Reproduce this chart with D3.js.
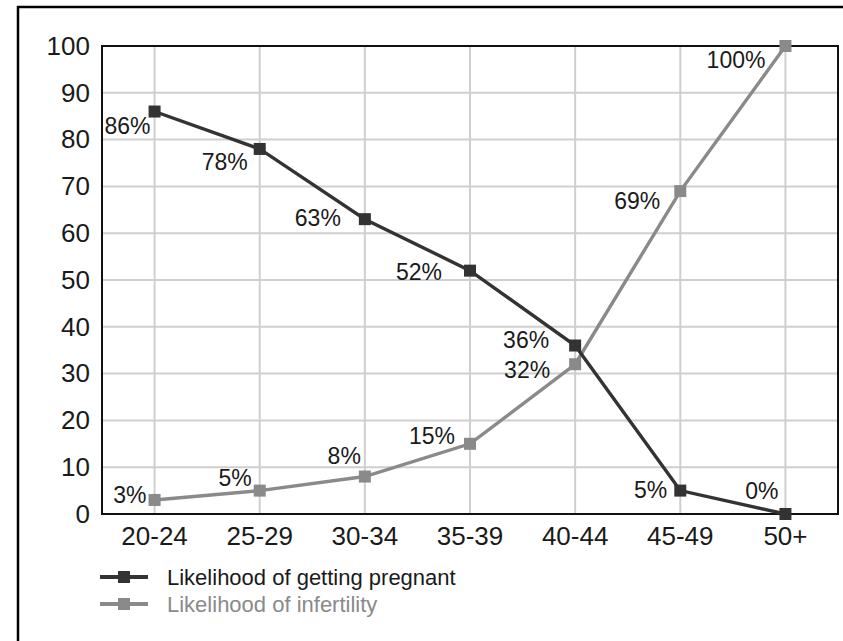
<!DOCTYPE html>
<html><head><meta charset="utf-8">
<script src="https://cdn.jsdelivr.net/npm/d3@7"></script>
<style>body{margin:0;background:#fff;}svg{display:block;font-family:"Liberation Sans",Arial,sans-serif;}</style>
</head><body><div id="chart"></div>
<script>
const categories = ["20-24","25-29","30-34","35-39","40-44","45-49","50+"];
const pregnant = [86,78,63,52,36,5,0];
const infertility = [3,5,8,15,32,69,100];
const yTicks = [0,10,20,30,40,50,60,70,80,90,100];
const seriesNames = ["Likelihood of getting pregnant","Likelihood of infertility"];
// label offsets (dx, dy) relative to each point
const pregLabelOffsets = [[-4,22],[-12,21],[-24,7],[-28,9],[-26,2],[-13,7],[-7,-15]];
const infLabelOffsets = [[-8,3],[-8,-5],[-4,-13],[-15,0],[-25,14],[-20,18],[-20,22]];

const W = 843, H = 641;
const m = {left:102, top:46, right:843-838, bottom:641-514};
const svg = d3.select("#chart").append("svg").attr("width",W).attr("height",H);

// outer frame
svg.append("rect").attr("x",18).attr("y",7).attr("width",840).attr("height",660)
  .attr("fill","none").attr("stroke","#000").attr("stroke-width",2.5);

const x = d3.scaleBand().domain(categories).range([m.left, W-m.right]);
const cx = d => x(d) + x.bandwidth()/2;
const y = d3.scaleLinear().domain([0,100]).range([H-m.bottom, m.top]);

// grid
const g = svg.append("g");
g.selectAll(".hg").data(yTicks).join("line")
  .attr("x1",m.left).attr("x2",W-m.right).attr("y1",d=>y(d)).attr("y2",d=>y(d))
  .attr("stroke","#cfcfcf").attr("stroke-width",2);
g.selectAll(".vg").data(categories).join("line")
  .attr("x1",cx).attr("x2",cx).attr("y1",m.top).attr("y2",H-m.bottom)
  .attr("stroke","#cfcfcf").attr("stroke-width",2);

// plot border
svg.append("rect").attr("x",m.left).attr("y",m.top).attr("width",W-m.right-m.left).attr("height",H-m.bottom-m.top)
  .attr("fill","none").attr("stroke","#111").attr("stroke-width",2);

// axes
const yAxis = svg.append("g").attr("transform",`translate(${m.left},0)`)
  .call(d3.axisLeft(y).tickValues(yTicks).tickSize(0).tickPadding(12));
yAxis.select(".domain").remove();
yAxis.selectAll("text").attr("font-size",26).attr("fill","#1a1a1a").attr("font-family","Liberation Sans, Arial, sans-serif");

const xAxis = svg.append("g").attr("transform",`translate(0,${H-m.bottom})`)
  .call(d3.axisBottom(x).tickSize(0).tickPadding(13));
xAxis.select(".domain").remove();
xAxis.selectAll("text").attr("font-size",26).attr("fill","#1a1a1a").attr("font-family","Liberation Sans, Arial, sans-serif");

function drawSeries(vals, color, offsets) {
  const pts = vals.map((v,i)=>({c:categories[i], v, o:offsets[i]}));
  const line = d3.line().x(d=>cx(d.c)).y(d=>y(d.v));
  svg.append("path").datum(pts).attr("d",line).attr("fill","none")
    .attr("stroke",color).attr("stroke-width",3.4);
  svg.append("g").selectAll("rect").data(pts).join("rect")
    .attr("x",d=>cx(d.c)-6).attr("y",d=>y(d.v)-6).attr("width",12).attr("height",12)
    .attr("fill",color);
  svg.append("g").selectAll("text").data(pts).join("text")
    .attr("x",d=>cx(d.c)+d.o[0]).attr("y",d=>y(d.v)+d.o[1])
    .attr("text-anchor","end").attr("font-size",23).attr("fill","#1a1a1a")
    .text(d=>d.v+"%");
}
drawSeries(infertility, "#8a8a8a", infLabelOffsets);
drawSeries(pregnant, "#333333", pregLabelOffsets);

// legend
const legColors = ["#333333","#8a8a8a"];
const legText = ["#1a1a1a","#8a8a8a"];
const leg = svg.append("g").selectAll("g").data(seriesNames).join("g")
  .attr("transform",(d,i)=>`translate(100,${577+i*27})`);
leg.append("line").attr("x1",0).attr("x2",48).attr("y1",0).attr("y2",0)
  .attr("stroke",(d,i)=>legColors[i]).attr("stroke-width",4);
leg.append("rect").attr("x",18).attr("y",-6).attr("width",12).attr("height",12)
  .attr("fill",(d,i)=>legColors[i]);
leg.append("text").attr("x",67).attr("y",0).attr("dy","0.35em")
  .attr("font-size",22).attr("fill",(d,i)=>legText[i]).text(d=>d);
</script></body></html>
